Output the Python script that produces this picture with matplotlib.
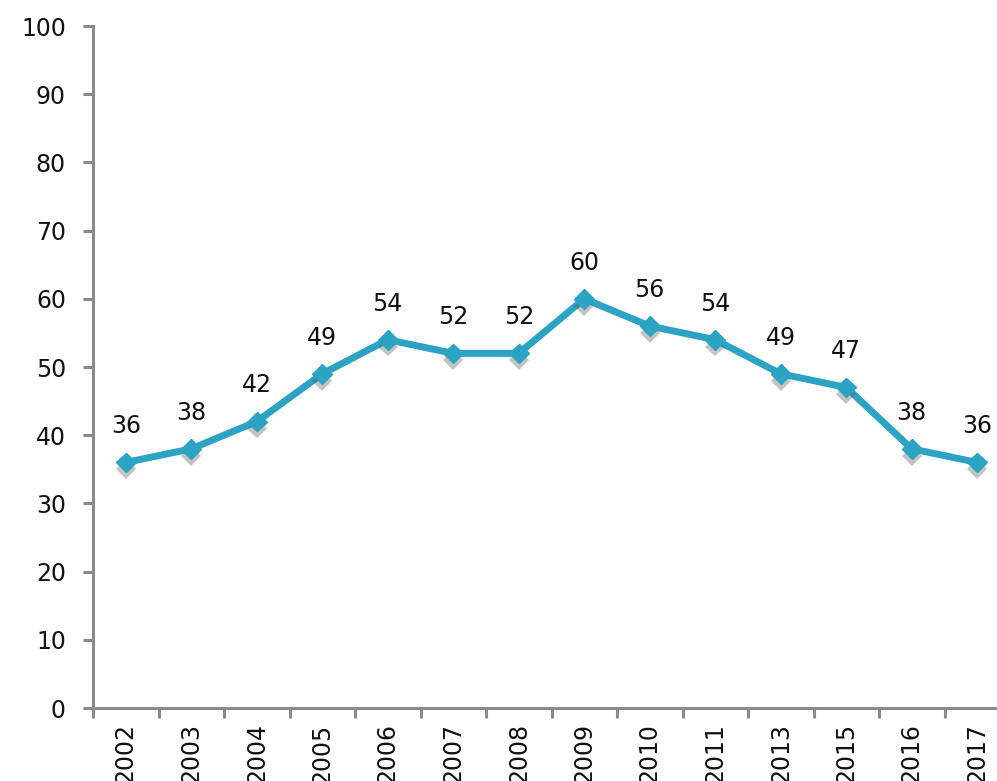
import matplotlib
matplotlib.use("Agg")
import matplotlib.pyplot as plt
import matplotlib.patheffects as pe
import numpy as np

years = ["2002", "2003", "2004", "2005", "2006", "2007", "2008", "2009",
         "2010", "2011", "2013", "2015", "2016", "2017"]
values = [36, 38, 42, 49, 54, 52, 52, 60, 56, 54, 49, 47, 38, 36]
y_ticks = [0, 10, 20, 30, 40, 50, 60, 70, 80, 90, 100]

plt.rcParams['font.family'] = ['DejaVu Sans']

W, H = 997, 781
fig = plt.figure(figsize=(W / 100, H / 100), dpi=100)
ax = fig.add_axes([93 / W, (H - 708) / H, (14 * 65.5) / W, (708 - 26) / H])

x = np.arange(len(years))
line_color = "#2ca3c3"
gray = "#8a8a8a"

ax.plot(x, values, color=line_color, lw=5, solid_joinstyle='miter', zorder=3)
ax.plot(x, values, linestyle='none', marker='D', ms=10, color=line_color,
        zorder=4,
        path_effects=[pe.SimplePatchShadow(offset=(0, -5), shadow_rgbFace='#555555', alpha=0.35),
                      pe.Normal()])

for xi, v in zip(x, values):
    ax.annotate(str(v), (xi, v), xytext=(0, 26), textcoords='offset points',
                ha='center', va='center', fontsize=17, color='#111111')

ax.set_xlim(-0.5, len(years) - 0.5)
ax.set_ylim(0, 100)
ax.set_yticks(y_ticks)
ax.set_yticklabels([str(t) for t in y_ticks], fontsize=17, color='#111111')
ax.set_xticks(x)
ax.set_xticklabels(years, rotation=90, fontsize=17, color='#111111', va='top')
ax.set_xticks(np.arange(-0.5, len(years), 1.0), minor=True)

for s in ['top', 'right']:
    ax.spines[s].set_visible(False)
for s in ['left', 'bottom']:
    ax.spines[s].set_color(gray)
    ax.spines[s].set_linewidth(2.2)

ax.tick_params(axis='y', direction='out', length=7.5, width=2.2, color=gray, pad=12)
ax.tick_params(axis='x', which='major', length=0, pad=11)
ax.tick_params(axis='x', which='minor', direction='out', length=7.5, width=2.2, color=gray)

fig.savefig("out.png", dpi=100)
